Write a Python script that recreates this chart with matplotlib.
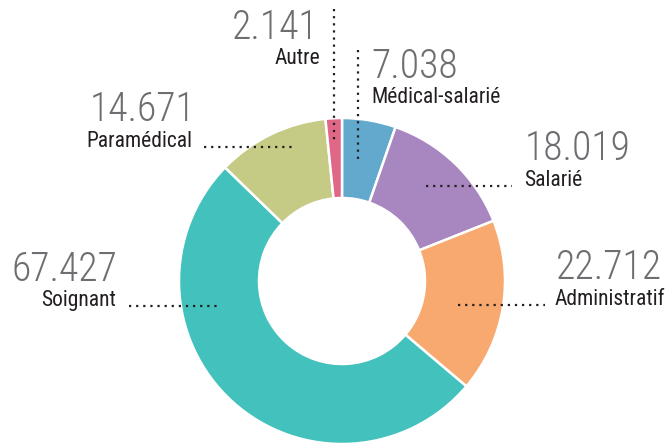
import matplotlib
matplotlib.use("Agg")
import matplotlib.pyplot as plt

categories = ["Médical-salarié", "Salarié", "Administratif", "Soignant", "Paramédical", "Autre"]
values = [7.038, 18.019, 22.712, 67.427, 14.671, 2.141]
value_labels = ["7.038", "18.019", "22.712", "67.427", "14.671", "2.141"]
colors = ["#62A9CD", "#A886BF", "#F7A96F", "#43C1BC", "#C5CB85", "#E06787"]

W, H = 668, 445
fig = plt.figure(figsize=(W / 100, H / 100), dpi=100)
ax = fig.add_axes([0, 0, 1, 1])

def Y(y):
    return H - y

cx, cy, R, r_in = 342, 281, 163, 83
ax.pie(values, colors=colors, startangle=90, counterclock=False,
       center=(cx, Y(cy)), radius=R,
       wedgeprops=dict(width=R - r_in, edgecolor="white", linewidth=1.8))
ax.set_xlim(0, W)
ax.set_ylim(0, H)
ax.set_aspect("equal")
ax.axis("off")

fam = ["Roboto Condensed", "Barlow Condensed", "Asap Condensed", "DejaVu Sans"]
num_kw = dict(family=fam, fontsize=28.5, fontweight="light", color="#6d6e71", va="baseline")
lab_kw = dict(family=fam, fontsize=15.5, color="#231f20", va="baseline")
dot_kw = dict(color="#231f20", linestyle=(0, (1, 2.2)), linewidth=1.6)

# (number x, number baseline, label x, label baseline, align, dotted line)
layout = {
    "Autre": (319, 39, 320, 64, "right", [(334, 9), (334, 142)]),
    "Médical-salarié": (371, 78, 371, 103, "left", [(358, 50), (358, 162)]),
    "Paramédical": (90, 121, 86, 147, "left", [(204, 147), (292, 147)]),
    "Salarié": (525, 160, 524, 186, "left", [(426, 186), (512, 186)]),
    "Soignant": (12, 281, 41, 306, "left", [(129, 306), (220, 306)]),
    "Administratif": (556, 279, 555, 305, "left", [(458, 305), (545, 305)]),
}

for cat, val in zip(categories, value_labels):
    nx, ny, lx, ly, ha, line = layout[cat]
    ax.text(nx, Y(ny), val, ha=ha, **num_kw)
    ax.text(lx, Y(ly), cat, ha=ha, **lab_kw)
    (x0, y0), (x1, y1) = line
    ax.plot([x0, x1], [Y(y0), Y(y1)], **dot_kw)

fig.savefig("out.png", dpi=100)
